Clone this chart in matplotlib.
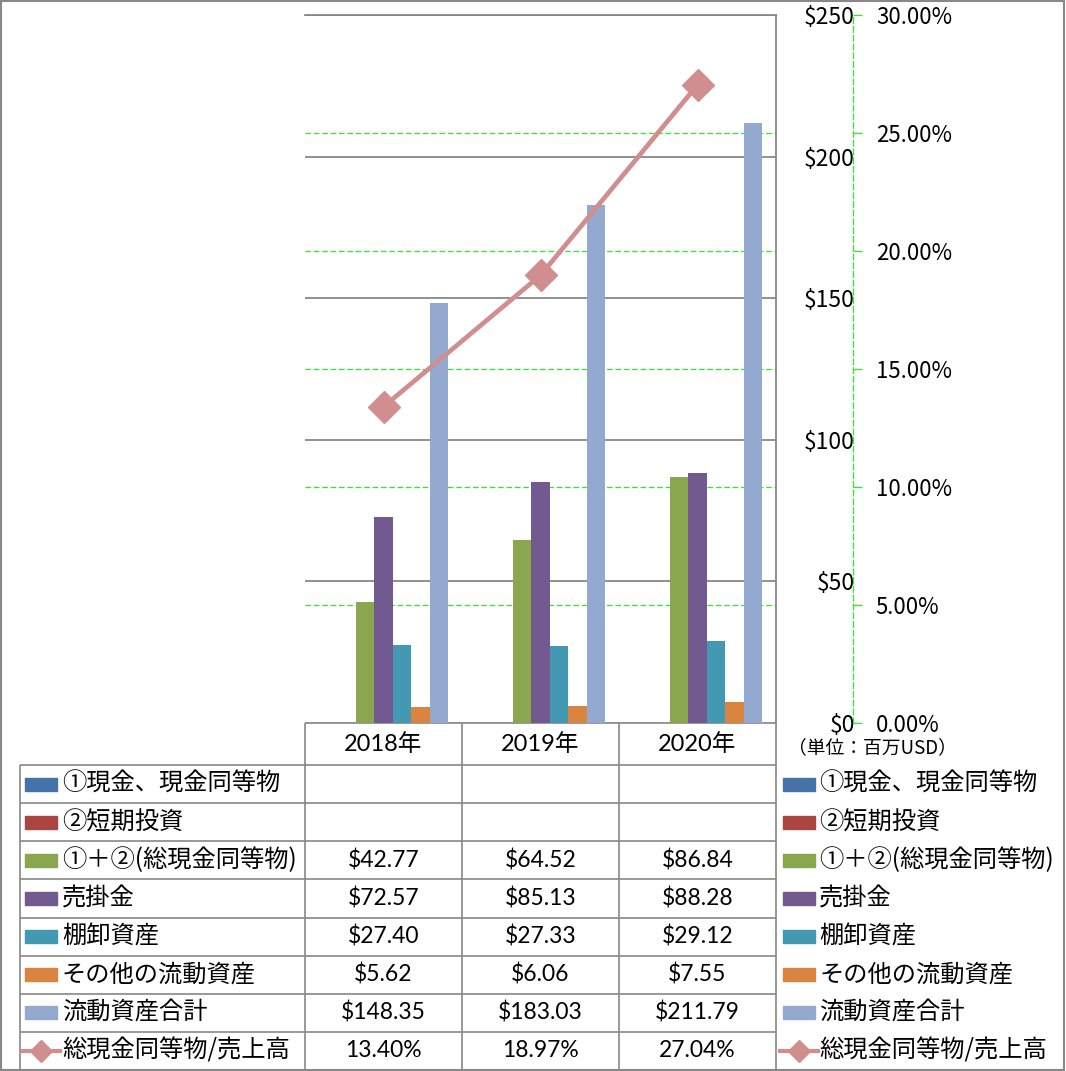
"""Current assets chart (bars + cash/sales ratio line) with an Excel-style data table."""

import matplotlib
matplotlib.use("Agg")
import matplotlib.pyplot as plt
import matplotlib.transforms as mtransforms
from matplotlib.patches import Rectangle

plt.rcParams["font.family"] = ["Noto Sans CJK JP", "DejaVu Sans"]

CATEGORIES = ["2018年", "2019年", "2020年"]

SERIES_NAMES = [
    "①現金、現金同等物",
    "②短期投資",
    "①＋②(総現金同等物)",
    "売掛金",
    "棚卸資産",
    "その他の流動資産",
    "流動資産合計",
    "総現金同等物/売上高",
]

# million USD; the first two series have no values in the source
CASH = [None, None, None]
SHORT_TERM = [None, None, None]
TOTAL_CASH = [42.77, 64.52, 86.84]
RECEIVABLES = [72.57, 85.13, 88.28]
INVENTORY = [27.40, 27.33, 29.12]
OTHER_CURRENT = [5.62, 6.06, 7.55]
CURRENT_TOTAL = [148.35, 183.03, 211.79]
# percent
CASH_TO_SALES = [13.40, 18.97, 27.04]

BAR_COLORS = ["#4672AA", "#AA4542", "#8AA64F", "#72598F", "#4299B1", "#DA843F", "#94A9D0"]
LINE_COLOR = "#D08F8E"
GRID_GRAY = "#888888"
GREEN = "#2AEE2A"
FONT_NUM = ["Lato", "Noto Sans CJK JP"]

W, H = 1066, 1071
PLOT_L, PLOT_R, PLOT_T, PLOT_B = 305, 776, 15, 723
SEC_AXIS_X = 853
TABLE_L = 20
ROW_TOP = 765
ROW_H = (1070 - ROW_TOP) / 8


def fmt(v, pct=False):
    if v is None:
        return ""
    return f"{v:.2f}%" if pct else f"${v:.2f}"


def main() -> None:
    fig = plt.figure(figsize=(W / 100, H / 100), dpi=100)

    # overlay in pixel coordinates for the table and frame
    tab = fig.add_axes([0, 0, 1, 1])
    tab.set_xlim(0, W)
    tab.set_ylim(H, 0)
    tab.set_axis_off()

    ax = fig.add_axes([PLOT_L / W, 1 - PLOT_B / H, (PLOT_R - PLOT_L) / W, (PLOT_B - PLOT_T) / H])
    ax2 = ax.twinx()

    bar_series = [CASH, SHORT_TERM, TOTAL_CASH, RECEIVABLES, INVENTORY, OTHER_CURRENT, CURRENT_TOTAL]
    xs = list(range(len(CATEGORIES)))
    n = len(bar_series)
    width = 1 / 8.5
    for i, (vals, color) in enumerate(zip(bar_series, BAR_COLORS)):
        off = (i - (n - 1) / 2) * width
        heights = [float("nan") if v is None else v for v in vals]
        ax.bar([x + off for x in xs], heights, width, color=color, zorder=2)

    ax.set_xlim(-0.5, len(CATEGORIES) - 0.5)
    ax.set_ylim(0, 250)
    ax.set_yticks(range(0, 251, 50))
    ax.set_yticklabels([f"${v}" for v in range(0, 251, 50)])
    ax.set_axisbelow(True)
    ax.grid(axis="y", color=GRID_GRAY, linewidth=1.3)

    # secondary gridlines behind the bars and the gray grid
    blend = mtransforms.blended_transform_factory(ax.transAxes, ax2.transData)
    for p in range(5, 30, 5):
        ax.plot([0, 1], [p, p], transform=blend, color=GREEN, linewidth=0.9,
                dashes=(4.5, 2.2), zorder=0.4)

    for side in ("left", "bottom"):
        ax.spines[side].set_visible(False)
    for side in ("top", "right"):
        ax.spines[side].set_color(GRID_GRAY)
        ax.spines[side].set_linewidth(1.3)

    ax.tick_params(axis="y", left=False, right=False, labelleft=False, labelright=True,
                   labelsize=16.5, pad=(850 - PLOT_R) / 1.389)
    for tick in ax.yaxis.get_major_ticks():
        tick.label2.set_horizontalalignment("right")

    ax.set_xticks(xs, CATEGORIES)
    ax.tick_params(axis="x", length=0, pad=15, labelsize=17)
    for lab in ax.get_xticklabels():
        lab.set_verticalalignment("center")
        lab.set_fontfamily(FONT_NUM)

    ax2.plot(xs, CASH_TO_SALES, color=LINE_COLOR, linewidth=3.4, marker="D",
             markersize=16, zorder=3)
    ax2.set_ylim(0, 30)
    ax2.set_yticks(range(0, 31, 5))
    ax2.set_yticklabels([f"{v:.2f}%" for v in range(0, 31, 5)])
    for side in ("left", "top", "bottom"):
        ax2.spines[side].set_visible(False)
    ax2.spines["right"].set_position(("axes", (SEC_AXIS_X - PLOT_L) / (PLOT_R - PLOT_L)))
    ax2.spines["right"].set_color(GREEN)
    ax2.spines["right"].set_linewidth(0.9)
    ax2.spines["right"].set_linestyle((0, (4.5, 2.5)))
    ax2.tick_params(axis="y", direction="out", length=6.5, width=0.9, color=GREEN,
                    labelsize=16, pad=10)

    tab.text(872, 748, "（単位：百万USD）", ha="center", va="center", fontsize=13.5)

    # data table grid
    line_kw = dict(color=GRID_GRAY, linewidth=1.2, solid_capstyle="butt")
    bottom = ROW_TOP + 8 * ROW_H
    tab.plot([PLOT_L, PLOT_R], [PLOT_B, PLOT_B], **line_kw)
    for k in range(9):
        y = ROW_TOP + k * ROW_H
        tab.plot([TABLE_L, PLOT_R], [y, y], **line_kw)
    tab.plot([TABLE_L, TABLE_L], [ROW_TOP, bottom], **line_kw)
    for x in (305, 462, 619, 776):
        tab.plot([x, x], [PLOT_B, bottom], **line_kw)

    cell_tf = mtransforms.blended_transform_factory(ax.transData, tab.transData)
    rows = bar_series + [CASH_TO_SALES]
    for i, (name, vals) in enumerate(zip(SERIES_NAMES, rows)):
        yc = ROW_TOP + (i + 0.5) * ROW_H
        pct = i == len(rows) - 1
        for j, v in enumerate(vals):
            tab.text(j, yc, fmt(v, pct), transform=cell_tf, ha="center", va="center",
                     fontsize=16.5, family=FONT_NUM)
        for sx, tx in ((25, 62), (783, 819)):
            if pct:
                tab.plot([sx - 3, sx + 35], [yc, yc], color=LINE_COLOR, linewidth=3)
                tab.plot([sx + 16], [yc], marker="D", markersize=11, color=LINE_COLOR)
            else:
                tab.add_patch(Rectangle((sx, yc - 6.5), 32, 13, color=BAR_COLORS[i]))
            tab.text(tx, yc, name, ha="left", va="center", fontsize=17.5)

    tab.add_patch(Rectangle((1, 1), W - 3, H - 2, fill=False, edgecolor=GRID_GRAY,
                            linewidth=1.5, clip_on=False))

    fig.savefig("out.png", dpi=100)


if __name__ == "__main__":
    main()
